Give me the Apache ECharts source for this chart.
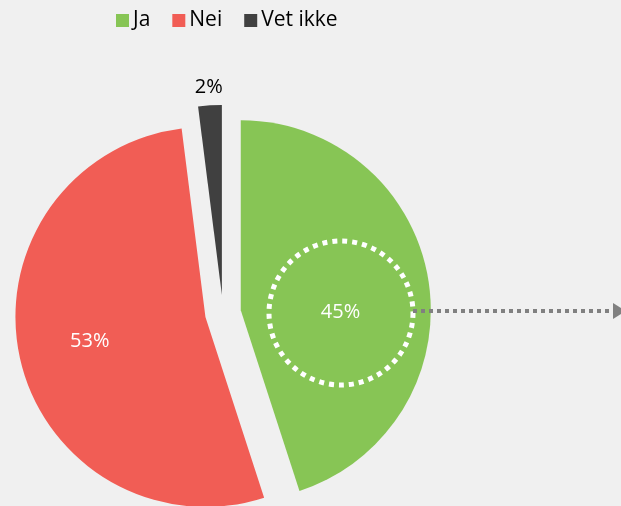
<!DOCTYPE html>
<html><head><meta charset="utf-8">
<script src="https://cdn.jsdelivr.net/npm/echarts@6/dist/echarts.min.js"></script>
<style>html,body{margin:0;padding:0;background:#F0F0F0;}#c{width:621px;height:506px;}</style>
</head><body><div id="c"></div>
<script>
const categories = ['Ja', 'Nei', 'Vet ikke'];
const values = [45, 53, 2];
const colors = ['#87C555', '#F15D55', '#404040'];
const labelColors = ['#FFFFFF', '#FFFFFF', '#000000'];
const labelShifts = [[3, 17], [-20, 3], [-7, -110]];

const chart = echarts.init(document.getElementById('c'));
const FONT = '"Open Sans", "Noto Sans", sans-serif';
chart.setOption({
  backgroundColor: '#F0F0F0',
  animation: false,
  legend: {
    left: 111, top: 5,
    itemWidth: 13, itemHeight: 13, itemGap: 22,
    icon: 'rect',
    textStyle: { fontFamily: FONT, fontSize: 21, color: '#000', padding: [2, 0, 0, -1] },
    data: categories
  },
  series: [{
    type: 'pie',
    center: [223, 313],
    radius: 190,
    startAngle: 90,
    clockwise: true,
    selectedMode: 'multiple',
    selectedOffset: 18,
    avoidLabelOverlap: false,
    emphasis: { disabled: true },
    label: { position: 'inside', fontFamily: FONT, fontSize: 20 },
    labelLine: { show: false },
    labelLayout: function (p) {
      const s = labelShifts[p.dataIndex];
      return { dx: s[0], dy: s[1] };
    },
    data: categories.map((n, i) => ({
      name: n, value: values[i], selected: true,
      itemStyle: { color: colors[i] },
      label: { color: labelColors[i], formatter: values[i] + '%' }
    }))
  }],
  graphic: [
    { type: 'circle', shape: { cx: 341, cy: 313, r: 72 }, style: { fill: 'none', stroke: '#FFFFFF', lineWidth: 5, lineDash: [5, 5] }, z: 100 },
    { type: 'line', shape: { x1: 413, y1: 311, x2: 614, y2: 311 }, style: { stroke: '#808080', lineWidth: 4, lineDash: [4, 4] }, z: 100 },
    { type: 'polygon', shape: { points: [[613, 303], [626, 311], [613, 319]] }, style: { fill: '#808080' }, z: 100 }
  ]
});
</script></body></html>
